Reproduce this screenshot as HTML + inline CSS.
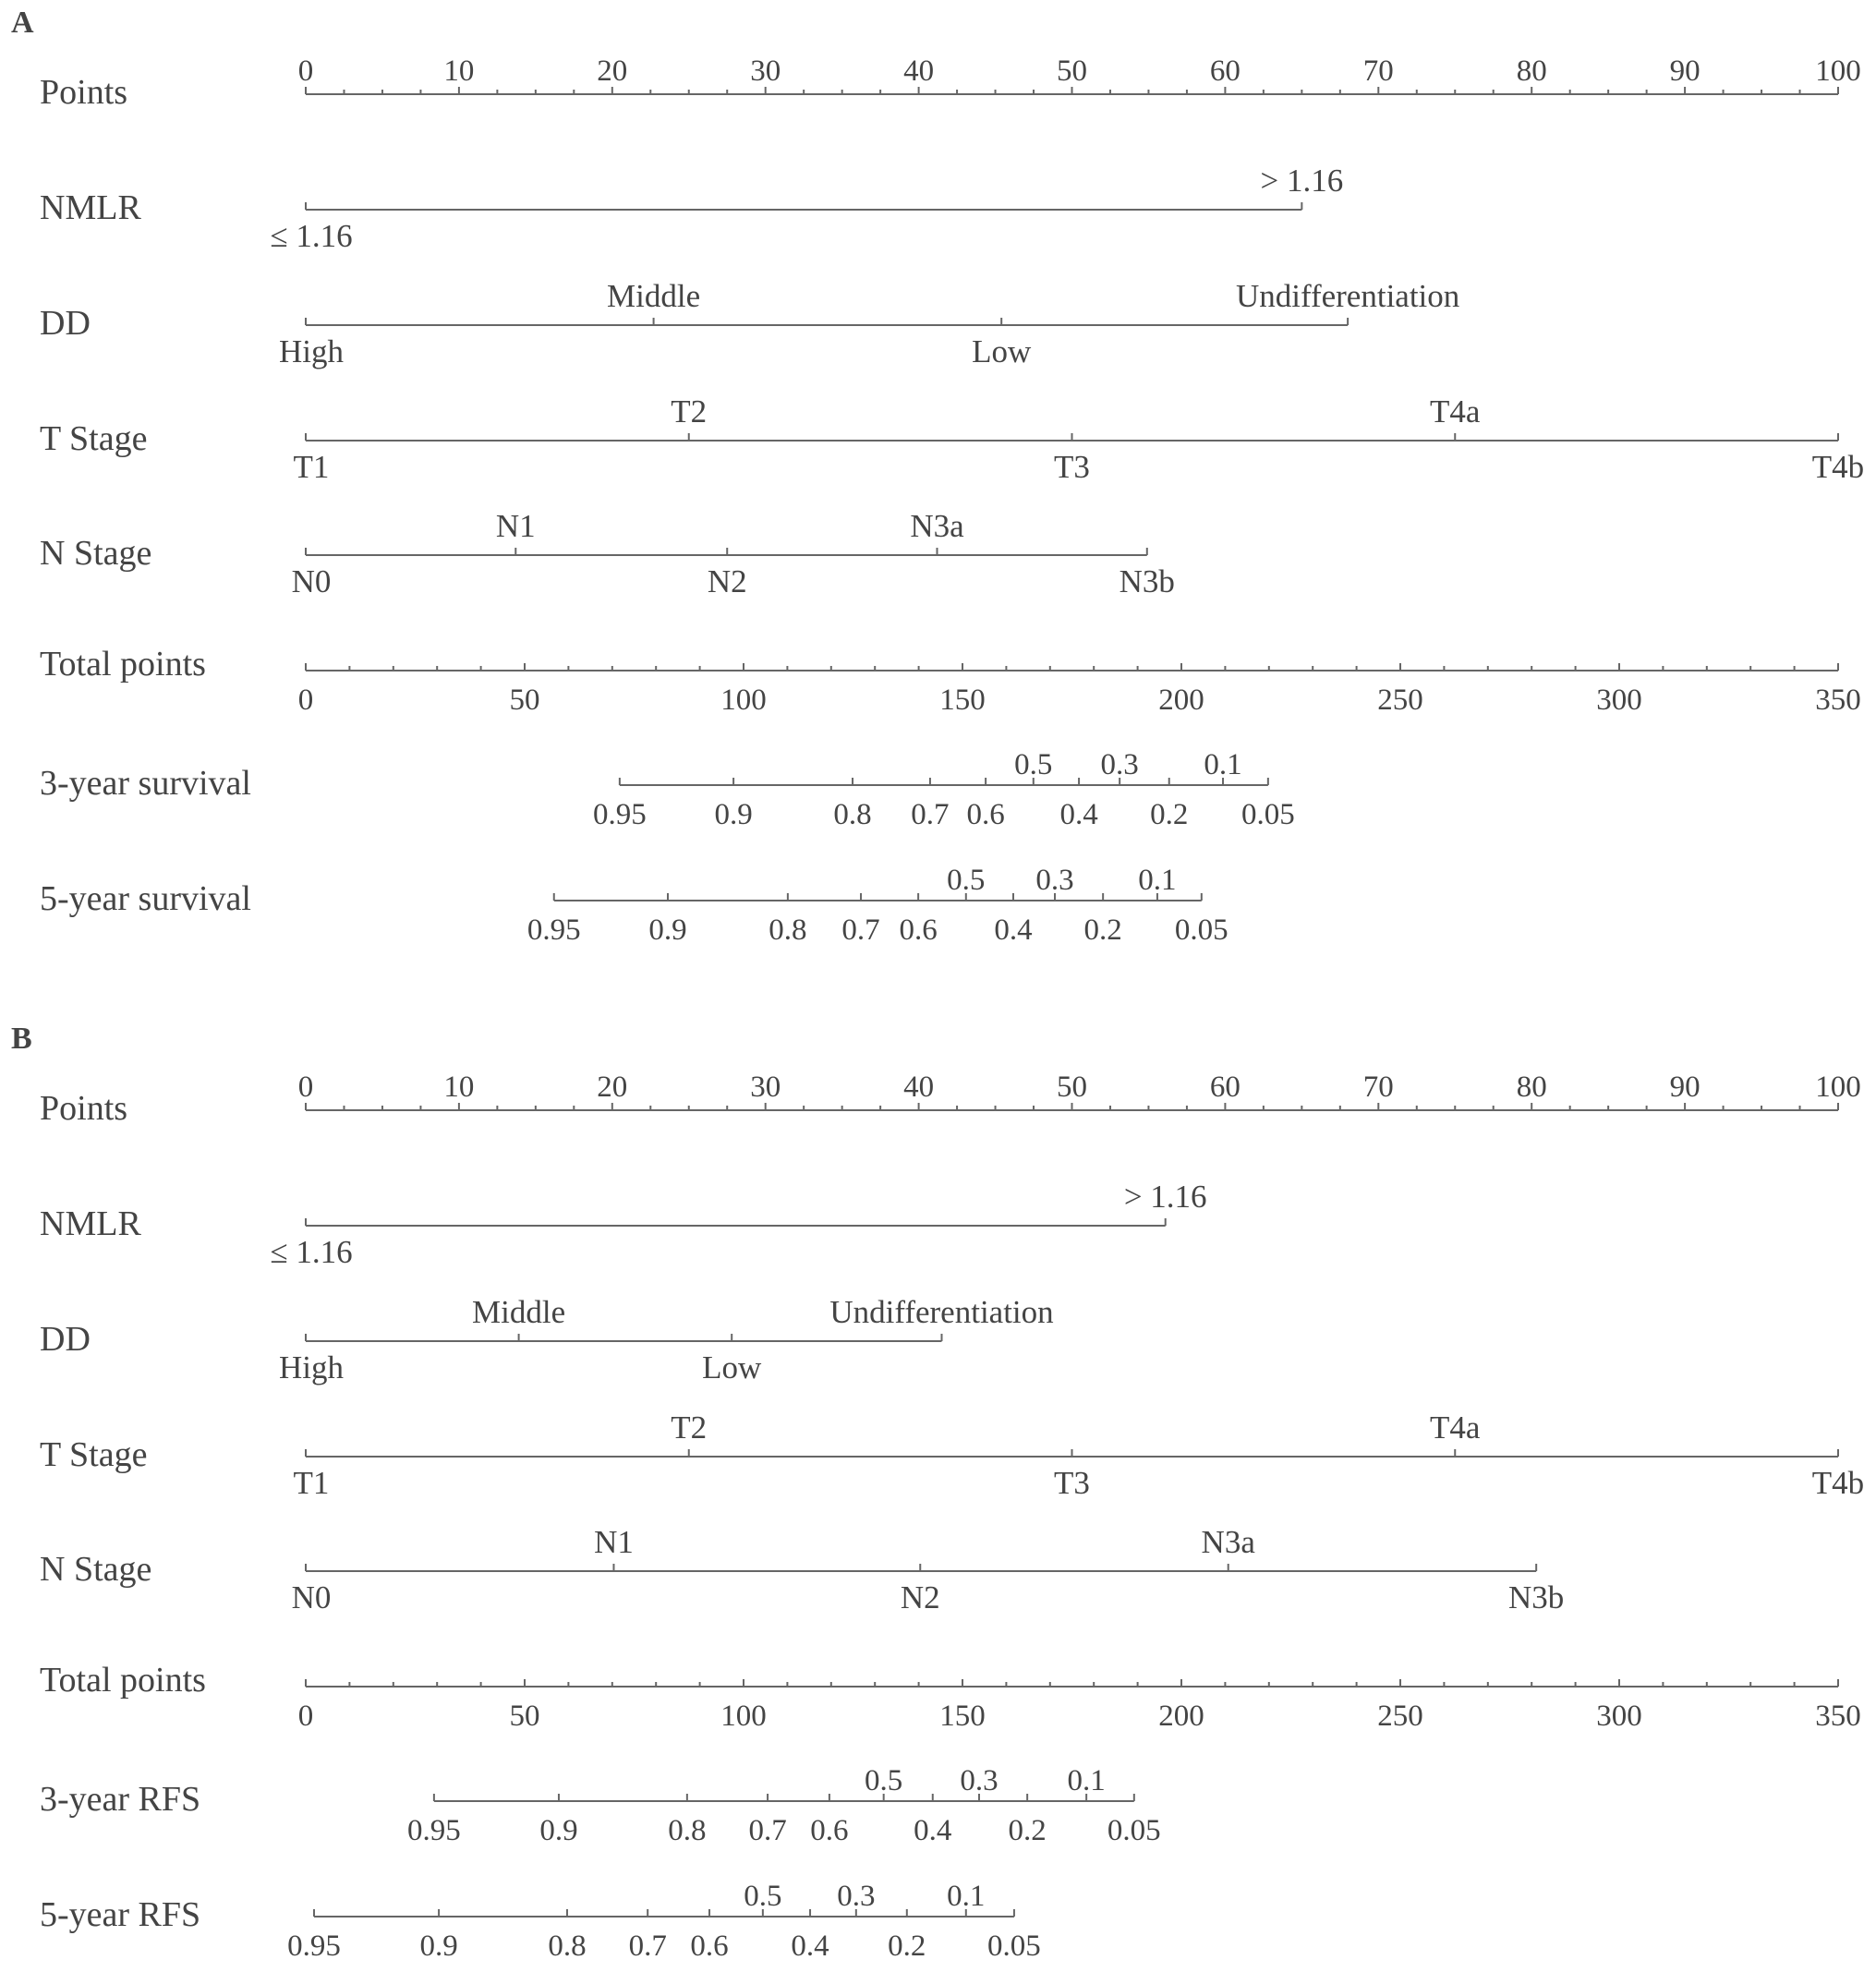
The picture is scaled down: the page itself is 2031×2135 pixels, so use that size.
<!DOCTYPE html>
<html><head><meta charset="utf-8"><style>
html,body{margin:0;padding:0;background:#fff;}
svg{display:block;font-family:"Liberation Serif",serif;}
text{fill:#444;font-size:33px;}
</style></head><body>
<svg id="chart" width="2031" height="2135" viewBox="0 0 2031 2135" xmlns="http://www.w3.org/2000/svg"></svg>
<script>
// ---- data ----
const pointTicks = [0,10,20,30,40,50,60,70,80,90,100];
const totalTicks = [0,50,100,150,200,250,300,350];
const tStageLabels = ["T1","T2","T3","T4a","T4b"];
const tStagePts = [0,25,50,75,100];
const nmlrLabels = ["\u2264 1.16","> 1.16"];
const ddLabels = ["High","Middle","Low","Undifferentiation"];
const nLabels = ["N0","N1","N2","N3a","N3b"];
const survLabels = ["0.95","0.9","0.8","0.7","0.6","0.5","0.4","0.3","0.2","0.1","0.05"];
const survAbove = [false,false,false,false,false,true,false,true,false,true,false];
// Panel A
const nmlrPtsA = [0,65];
const ddPtsA = [0,22.7,45.4,68];
const nPtsA = [0,13.7,27.5,41.2,54.9];
const surv3A = [71.7,97.7,124.9,142.6,155.3,166.2,176.6,185.9,197.2,209.5,219.8];
const surv5A = [56.7,82.7,110.1,126.8,139.9,150.8,161.6,171.1,182.1,194.5,204.6];
// Panel B
const nmlrPtsB = [0,56.1];
const ddPtsB = [0,13.9,27.8,41.5];
const nPtsB = [0,20.1,40.1,60.2,80.3];
const surv3B = [29.3,57.8,87.1,105.5,119.6,132,143.2,153.8,164.8,178.3,189.2];
const surv5B = [1.9,30.4,59.7,78.1,92.2,104.4,115.2,125.7,137.3,150.8,161.8];

// ---- scales ----
const X0 = 331, X1 = 1990;
const xPts = v => X0 + (X1 - X0) * v / 100;
const xTot = v => X0 + (X1 - X0) * v / 350;
const svg = document.getElementById('chart');
const NS = 'http://www.w3.org/2000/svg';
const STROKE = '#666';

function line(x1,y1,x2,y2,name){
  const l = document.createElementNS(NS,'line');
  l.setAttribute('x1',x1);l.setAttribute('y1',y1);l.setAttribute('x2',x2);l.setAttribute('y2',y2);
  l.setAttribute('stroke',STROKE);l.setAttribute('stroke-width','2');
  
  
  svg.appendChild(l);
}
function text(x,y,s,anchor,name,size){
  const t = document.createElementNS(NS,'text');
  t.setAttribute('x',x);t.setAttribute('y',y);
  t.setAttribute('text-anchor',anchor||'middle');
  if(size) t.style.fontSize = size+'px';
  t.textContent = s;
  
  
  svg.appendChild(t);
}

function pointsAxis(y){
  line(xPts(0),y,xPts(100),y,'points-axis-line');
  for(let v=0; v<=100; v+=2.5){
    line(xPts(v),y,xPts(v),y-(v%10===0?8:5),'points-axis-tick');
  }
  pointTicks.forEach(v=>text(xPts(v),y-15,String(v),'middle','points-tick-label'));
}
function totalAxis(y){
  line(xTot(0),y,xTot(350),y,'total-points-axis-line');
  for(let v=0; v<=350; v+=10){
    line(xTot(v),y,xTot(v),y-(v%50===0?8:5),'total-points-tick');
  }
  totalTicks.forEach(v=>text(xTot(v),y+42,String(v),'middle','total-points-tick-label'));
}
function catAxis(y,pts,labels,name){
  line(xPts(pts[0]),y,xPts(pts[pts.length-1]),y,name+'-line');
  pts.forEach((p,i)=>{
    line(xPts(p),y,xPts(p),y-8,name+'-tick');
    const above = i%2===1;
    text(xPts(p)+(i===0?6:0), above?y-20:y+40, labels[i],'middle',name+'-label',35);
  });
}
function survAxis(y,pts,name){
  line(xTot(pts[0]),y,xTot(pts[pts.length-1]),y,name+'-line');
  pts.forEach((p,i)=>{
    line(xTot(p),y,xTot(p),y-8,name+'-tick');
    text(xTot(p), survAbove[i]?y-12:y+42, survLabels[i],'middle',name+'-label');
  });
}
function panel(off,letter,nmlr,dd,n,s3,s5,l3,l5){
  text(12,off+35,letter,'start','panel-label-'+letter.toLowerCase(),34);
  svg.lastChild.style.fontWeight='bold';
  const rows = [102,227,352,477,601,726,850,975].map(v=>v+off);
  const names = ['Points','NMLR','DD','T Stage','N Stage','Total points',l3,l5];
  names.forEach((nm,i)=>text(43,rows[i]+(i===5?5:10),nm,'start','row-label-'+nm.toLowerCase().replace(/\s+/g,'-'),38));
  pointsAxis(rows[0]);
  catAxis(rows[1],nmlr,nmlrLabels,'nmlr');
  catAxis(rows[2],dd,ddLabels,'dd');
  catAxis(rows[3],tStagePts,tStageLabels,'t-stage');
  catAxis(rows[4],n,nLabels,'n-stage');
  totalAxis(rows[5]);
  survAxis(rows[6],s3,'three-year-axis');
  survAxis(rows[7],s5,'five-year-axis');
}
panel(0,'A',nmlrPtsA,ddPtsA,nPtsA,surv3A,surv5A,'3-year survival','5-year survival');
panel(1100,'B',nmlrPtsB,ddPtsB,nPtsB,surv3B,surv5B,'3-year RFS','5-year RFS');
</script>
</body></html>
